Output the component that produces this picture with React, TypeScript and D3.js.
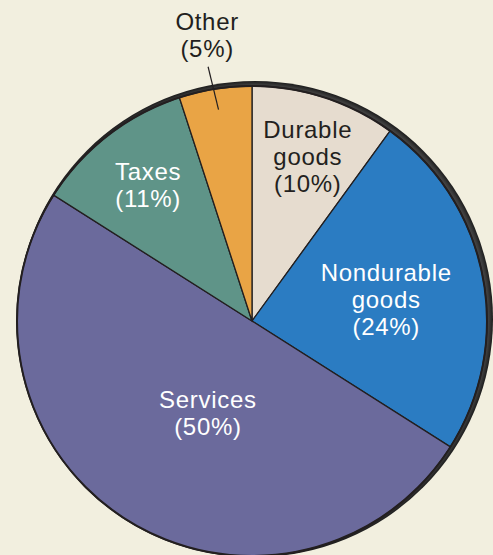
import React from "react";
import * as d3 from "d3";

const categories = ["Durable goods", "Nondurable goods", "Services", "Taxes", "Other"];
const shares = [10, 24, 50, 11, 5];
const labelLines = [
  ["Durable", "goods", "(10%)"],
  ["Nondurable", "goods", "(24%)"],
  ["Services", "(50%)"],
  ["Taxes", "(11%)"],
  ["Other", "(5%)"],
];
const colors = ["#e6dccf", "#2b7cc2", "#6b6a9c", "#5f9488", "#e9a445"];
const textColors = ["#231f20", "#ffffff", "#ffffff", "#ffffff", "#231f20"];

const W = 493;
const H = 555;
const cx = 252;
const cy = 321;
const R = 235;

// label placement: polar (radius, angle deg from top, clockwise) relative to pie center
const labelPolar = [
  { r: 174, a: 18.7 },
  { r: 136, a: 80.7 },
  { r: 102, a: 205.6 },
  { r: 171, a: 322.6 },
  { r: 290, a: 351.1 },
];

export default function App() {
  const data = categories.map((c, i) => ({ name: c, value: shares[i], i }));
  const pie = d3.pie<any>().value((d) => d.value).sort(null).startAngle(0).endAngle(2 * Math.PI);
  const arcs = pie(data);
  const arc = d3.arc<any>().innerRadius(0).outerRadius(R);
  const lineH = 27;
  const font = "'Liberation Sans', Arial, sans-serif";

  const polar = (r: number, deg: number) => {
    const a = (deg * Math.PI) / 180;
    return [r * Math.sin(a), -r * Math.cos(a)];
  };

  // leader line for "Other"
  const otherArc = arcs[4];
  const midA = ((otherArc.startAngle + otherArc.endAngle) / 2) * (180 / Math.PI);
  const l1 = polar(R + 23, midA - 0.8);
  const l2 = polar(R - 21, midA);

  return (
    <svg width={W} height={H} style={{ position: "absolute", left: 0, top: 0, display: "block" }}>
      <defs>
        <radialGradient id="rim" cx="0.5" cy="0.5" r="0.5">
          <stop offset="0.95" stopColor="#6b6b6b" />
          <stop offset="0.985" stopColor="#3a3a3a" />
          <stop offset="1" stopColor="#1c1c1c" />
        </radialGradient>
      </defs>
      <rect x={0} y={0} width={W} height={H} fill="#f2efdf" />
      <circle cx={cx + 3} cy={cy - 2} r={R + 3} fill="url(#rim)" />
      <g transform={`translate(${cx},${cy})`}>
        {arcs.map((a, i) => (
          <path key={i} d={arc(a) || ""} fill={colors[i]} stroke="#231f20" strokeWidth={1.3} />
        ))}
        <circle r={R} fill="none" stroke="#231f20" strokeWidth={2} />
        <line x1={l1[0]} y1={l1[1]} x2={l2[0]} y2={l2[1]} stroke="#231f20" strokeWidth={1.2} />
        {labelLines.map((lines, i) => {
          const [x, y] = polar(labelPolar[i].r, labelPolar[i].a);
          const n = lines.length;
          return (
            <text key={i} textAnchor="middle" fontFamily={font} fontSize={24} letterSpacing={0.7} fill={textColors[i]}>
              {lines.map((t, j) => (
                <tspan key={j} x={x} y={y + (j - (n - 1) / 2) * lineH} dominantBaseline="central">
                  {t}
                </tspan>
              ))}
            </text>
          );
        })}
      </g>
    </svg>
  );
}
